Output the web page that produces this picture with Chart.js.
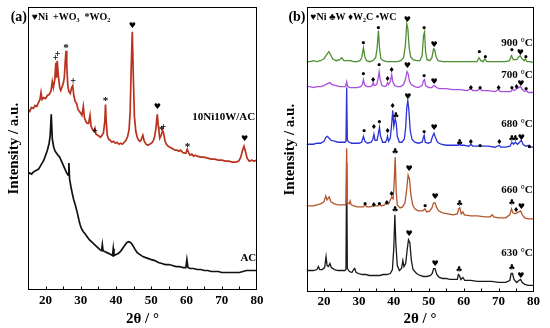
<!DOCTYPE html>
<html>
<head>
<meta charset="utf-8">
<script src="https://cdn.jsdelivr.net/npm/chart.js@4.4.1/dist/chart.umd.min.js"></script>
<style>
body { margin: 0; background: #fff; }
.wrap { position: relative; width: 550px; height: 328px; }
canvas { position: absolute; top: 0; }
#chartA { left: 0; }
#chartB { left: 275px; }
</style>
</head>
<body>
<div class="wrap">
    <canvas id="chartA" width="275" height="328"></canvas>
    <canvas id="chartB" width="275" height="328"></canvas>
</div>
<script>
// Axis ticks (2θ, degrees)
const angleLabels = [20, 30, 40, 50, 60, 70, 80];
const angleMarks = [20, 25, 30, 35, 40, 45, 50, 55, 60, 65, 70, 75];

// Panel (a): [2θ, intensity a.u.]
const nwPattern = [[15,182],[15.5,180],[16,184],[16.5,183],[17,186],[17.5,185],[18,189],[18.4,192],[18.7,199],[19,192],[19.5,194],[20,193],[20.5,196],[21,197],[21.5,200],[21.9,210],[22.2,204],[22.6,212],[22.9,229],[23.1,214],[23.3,231],[23.6,216],[24,204],[24.3,201],[24.7,205],[25,208],[25.3,214],[25.6,232],[25.8,241],[26,226],[26.3,206],[26.6,200],[27,198],[27.4,204],[27.7,206],[28,196],[28.4,190],[28.8,188],[29.2,182],[29.6,180],[30,178],[30.3,176],[30.7,185],[31,174],[31.4,170],[31.8,168],[32.2,168],[32.6,176],[32.9,165],[33.3,162],[33.7,160],[34,163],[34.3,157],[34.8,156],[35.2,155],[35.6,154],[36,156],[36.4,158],[36.8,170],[37,187],[37.2,170],[37.5,156],[37.9,152],[38.3,151],[38.8,149],[39.3,150],[39.8,148],[40.3,149],[40.8,147],[41.3,148],[41.8,147],[42.3,149],[42.8,151],[43.3,155],[43.7,162],[44,180],[44.3,225],[44.6,260],[44.9,215],[45.2,175],[45.6,160],[46,154],[46.4,151],[46.8,150],[47.2,152],[47.6,156],[48,150],[48.5,147],[49,146],[49.5,147],[50,148],[50.5,150],[50.9,154],[51.3,163],[51.7,177],[52,165],[52.4,153],[52.8,156],[53.2,161],[53.5,158],[53.9,150],[54.3,147],[54.8,145],[55.3,144],[55.8,143],[56.3,142],[56.8,141],[57.3,141],[57.8,140],[58.3,141],[58.8,139],[59.3,138],[59.8,138],[60.2,142],[60.5,139],[61,136],[61.5,137],[62,135],[62.5,136],[63,135],[64,134],[65,134],[66,133],[67,132],[68,132],[69,131],[70,131],[71,130],[72,130],[73,129],[74,129],[74.8,130],[75.4,134],[75.9,141],[76.3,145],[76.7,140],[77.2,133],[77.8,130],[78.5,131],[79.2,130],[80,131]];
const acPattern = [[15,117],[15.5,118],[16,117],[16.5,119],[17,120],[17.5,121],[18,122],[18.5,125],[19,128],[19.5,131],[20,136],[20.5,141],[21,148],[21.3,156],[21.6,177],[21.9,152],[22.3,144],[22.7,140],[23.1,138],[23.5,136],[24,134],[24.5,130],[25,126],[25.5,122],[26,118],[26.4,116],[26.6,128],[26.8,112],[27.2,104],[27.6,97],[28,91],[28.5,85],[29,78],[29.5,70],[29.8,66],[30.2,62],[30.7,59],[31.2,57],[31.8,54],[32.4,51],[33,49],[33.6,47],[34.2,45],[34.8,43],[35.4,41],[35.9,40],[36.1,46],[36.3,40],[36.8,39],[37.4,38],[38,37],[38.5,36],[39,35],[39.2,42],[39.4,35],[40,36],[40.6,37],[41.2,39],[41.8,42],[42.4,45],[43,48],[43.6,49],[44.2,48],[44.8,45],[45.4,41],[46,38],[46.8,36],[47.6,34],[48.4,33],[49.2,32],[50,31],[51,30],[52,28],[53,27],[54,26],[55,26],[56,25],[57,24],[58,24],[59,23],[59.8,23],[60.1,31],[60.4,23],[61,22],[62,22],[63,21],[64,21],[65,20],[66,20],[67,19],[68,19],[69,19],[70,18],[71,18],[72,18],[73,18],[74,18],[75,18],[76,19],[77,20],[78,20],[79,20],[80,20]];

// Panel (b): [2θ, intensity a.u.] by reduction temperature
const p900 = [[15,232],[16,232],[17,233],[18,232],[19,233],[20,235],[20.8,239],[21.4,242],[21.9,239],[22.5,235],[23.5,233],[24.5,234],[25.1,236],[25.7,233],[26.5,233],[27.5,233],[28.5,232],[29.5,232],[30.3,233],[30.8,236],[31.3,246],[31.7,237],[32.2,233],[33,232],[34,233],[34.8,236],[35.2,245],[35.6,263],[35.9,246],[36.3,235],[37,233],[38,232],[39,232],[40,232],[41,232],[42,233],[42.8,236],[43.3,248],[43.7,270],[44,266],[44.4,246],[44.8,237],[45.5,234],[46.5,233],[47.5,233],[48.1,238],[48.5,258],[48.8,262],[49.1,242],[49.5,234],[50.3,233],[50.9,236],[51.4,245],[51.7,244],[52.1,237],[52.7,233],[54,232],[56,232],[58,232],[60,232],[62,232],[63.8,232],[64.4,236],[64.9,233],[65.6,232],[66.1,235],[66.6,232],[68,232],[70,232],[72,232],[73.1,233],[73.7,238],[74.2,234],[75.2,234],[75.8,237],[76.2,238],[76.7,235],[77.3,233],[77.7,235],[78.1,232],[79,232],[80,231]];
const p700 = [[15,207],[16,207],[17,206],[18,207],[19,207],[20,208],[21,210],[21.7,211],[22.3,209],[23.5,208],[24.5,207],[25.5,207],[26.2,207],[26.5,212],[26.8,207],[27.5,206],[28.5,206],[29.5,206],[30.5,207],[31,209],[31.3,214],[31.6,209],[32.3,207],[33.3,207],[33.8,208],[34.1,211],[34.4,208],[35.1,209],[35.5,215],[35.8,222],[36.1,214],[36.6,208],[37.4,207],[37.9,208],[38.2,211],[38.5,209],[39,212],[39.4,219],[39.7,212],[40.2,208],[41,207],[42,207],[42.8,209],[43.3,214],[43.8,222],[44.1,220],[44.5,212],[45,209],[46,207],[47,206],[48.1,208],[48.5,213],[48.8,214],[49.1,208],[50,206],[50.9,206],[51.4,208],[51.7,208],[52.2,206],[53,205],[55,205],[57,204],[59,204],[61,203],[62.1,205],[62.6,203],[64,203],[64.7,205],[65.2,203],[67,203],[69,202],[70,204],[70.5,202],[72,202],[73.5,202],[73.9,204],[74.5,203],[75.2,205],[75.8,206],[76.3,207],[76.8,204],[77.5,202],[78,203],[78.5,201],[80,201]];
const p680 = [[15,149],[16,149],[17,149],[18,150],[19,150],[20,152],[20.6,156],[21,157],[21.5,155],[22,153],[23,152],[24,151],[25,151],[26,151],[26.3,152],[26.5,206],[26.7,153],[27.2,151],[28,150],[29,150],[30,150],[30.8,151],[31.3,157],[31.7,152],[32.5,150],[33.5,151],[34,154],[34.3,159],[34.6,153],[35.2,153],[35.6,160],[35.9,166],[36.2,157],[36.8,151],[37.6,151],[38,154],[38.2,157],[38.5,152],[39,155],[39.4,170],[39.7,183],[40,167],[40.4,175],[40.7,170],[41,157],[41.6,151],[42.3,151],[43,154],[43.4,166],[43.7,185],[44,193],[44.3,184],[44.7,163],[45.2,154],[46,151],[47,150],[48.1,151],[48.4,155],[48.7,158],[49,151],[49.8,150],[50.6,151],[51.1,157],[51.5,160],[51.9,156],[52.5,151],[53.5,149],[55,148],[57,148],[58.5,148],[58.8,151],[59.1,148],[60,148],[61.5,147],[62.1,149],[62.6,147],[64,147],[64.7,148],[65.3,147],[67,147],[69,146],[70.2,148],[70.6,146],[72,146],[73.3,147],[73.8,151],[74.3,149],[74.8,151],[75.4,149],[76,151],[76.5,153],[77,149],[77.8,147],[78.8,148],[79.3,146],[80,146]];
const p660 = [[15,87],[16,87],[17,87],[18,88],[19,89],[20,91],[20.5,97],[20.9,93],[21.5,96],[22,91],[23,89],[24,88],[25,88],[26,88],[26.3,89],[26.5,145],[26.7,90],[27.2,89],[27.5,92],[27.8,88],[28.5,87],[29.5,86],[30.5,86],[31.3,86],[31.8,88],[32.3,86],[33.3,86],[34,87],[34.3,89],[34.7,87],[35.5,87],[35.9,89],[36.4,87],[37.3,88],[38,91],[38.5,89],[39,93],[39.4,96],[39.8,94],[40.1,110],[40.4,136],[40.7,100],[41,88],[41.8,85],[42.5,86],[43.2,90],[43.7,104],[44.1,118],[44.5,114],[44.9,98],[45.4,88],[46,84],[47,82],[48.3,82],[48.9,84],[49.4,81],[50.3,82],[50.9,85],[51.4,90],[51.8,90],[52.2,86],[52.8,82],[54,80],[55.5,79],[57,78],[58.2,79],[58.6,84],[58.9,85],[59.3,79],[59.8,81],[60.2,78],[62,77],[64,77],[66,76],[67.6,76],[68.2,78],[68.6,76],[70,75],[72,75],[73.2,78],[73.7,84],[74.1,80],[74.7,79],[75.2,80],[75.8,81],[76.3,82],[76.8,78],[77.5,75],[78.5,74],[80,74]];
const p630 = [[15,22],[16,22],[17,22],[18,23],[18.4,26],[18.8,23],[19.5,23],[20.2,25],[20.6,36],[20.9,27],[21.3,26],[21.7,29],[22.1,25],[23,23],[24,22],[25,22],[26,22],[26.3,23],[26.5,130],[26.7,24],[27.3,21],[28,20],[28.5,23],[28.8,24],[29.2,20],[30,19],[31,18],[32,18],[33,17],[34,17],[35,17],[36,17],[37,18],[38,18],[39,19],[39.6,23],[40,45],[40.3,78],[40.6,48],[41,27],[41.6,22],[42.2,24],[42.6,32],[42.9,26],[43.4,29],[43.8,42],[44.2,53],[44.6,50],[45,33],[45.5,23],[46.5,19],[47.5,17],[48.5,16],[49.5,16],[50.5,17],[51,19],[51.4,24],[51.8,24],[52.3,18],[53,15],[54,14],[55,14],[56,13],[57,13],[58.2,13],[58.5,18],[58.8,17],[59.2,13],[59.8,15],[60.3,12],[62,12],[64,11],[66,11],[68,11],[70,10],[72,10],[73.2,12],[73.6,19],[74,19],[74.4,13],[75.2,10],[75.8,12],[76.3,13],[76.8,10],[77.5,8],[78.5,7],[80,7]];

// Phase markers: [2θ, intensity, symbol]
const markersA = [[44.6,266,'♥'],[51.7,185,'♥'],[76.5,152,'♥'],[22.8,233,'+'],[23.4,237,'+'],[25.8,247,'*'],[27.8,210,'+'],[34.0,160,'+'],[37.0,193,'*'],[52.9,164,'*'],[53.4,164,'+'],[60.3,147,'*']];
const markersB = [
    [31.3,250,'•'],[35.6,265,'•'],[43.9,274,'♥'],[48.7,265,'•'],[51.5,249,'♥'],[64.5,241,'•'],[66.2,236,'•'],[73.8,243,'•'],[76.2,241,'♥'],[77.8,236,'•'],
    [31.3,219,'•'],[34.1,213,'♦'],[35.8,228,'•'],[38.2,214,'♦'],[39.4,223,'♦'],[43.9,228,'♥'],[48.7,217,'•'],[51.5,212,'♥'],[62.1,205,'♦'],[64.7,205,'•'],[70.0,205,'♦'],[73.8,205,'•'],[75.2,206,'♦'],[76.4,210,'♥'],[77.9,204,'•'],
    [31.5,162,'•'],[34.3,166,'♦'],[35.9,171,'•'],[38.2,162,'♦'],[39.7,187,'♦'],[40.6,177,'♣'],[44.0,197,'♥'],[48.7,161,'•'],[51.5,165,'♥'],[58.8,150,'♣'],[62.1,151,'♦'],[64.7,147,'•'],[70.2,151,'♦'],[73.8,154,'♣'],[74.8,154,'♣'],[76.5,155,'♥'],[78.8,146,'•'],
    [31.8,88,'•'],[34.3,88,'♦'],[35.9,88,'•'],[38.0,90,'♦'],[39.4,99,'♦'],[40.4,141,'♣'],[44.4,124,'♥'],[49.0,86,'•'],[51.8,96,'♥'],[58.8,89,'♣'],[73.8,90,'♣'],[75.0,83,'♦'],[76.5,86,'♥'],
    [40.4,83,'♣'],[44.4,59,'♥'],[51.8,29,'♥'],[58.7,23,'♣'],[73.8,25,'♣'],[76.4,17,'♥']
];

// Curve names: [text, 2θ of right edge, intensity]
const namesA = [['10Ni10W/AC',79.5,174],['AC',79.8,32]];
const namesB = [['900 °C',79.8,251],['700 °C',79.8,218],['680 °C',79.8,169],['660 °C',79.8,103],['630 °C',79.8,39]];

Chart.defaults.font.family = '"Liberation Serif", "Times New Roman", serif';
Chart.defaults.color = '#000';

const symbolFont = {
    '♥': '8px "DejaVu Sans"',
    '♣': '8px "DejaVu Sans"',
    '♦': '7px "DejaVu Sans"',
    '•': 'bold 9px "DejaVu Sans"',
    '+': 'bold 10px "Liberation Serif"',
    '*': 'bold 11px "Liberation Serif"'
};
const symbolShift = { '*': 3 };

function decor(cfg) {
    return {
        id: 'decor',
        afterDatasetsDraw(chart) {
            const {ctx, chartArea: a, scales: {x, y}} = chart;
            ctx.save();
            ctx.strokeStyle = '#000';
            ctx.lineWidth = 1;
            const l = Math.round(a.left) + 0.5, t = Math.round(a.top) + 0.5;
            const r = Math.round(a.right) - 0.5, b = Math.round(a.bottom) - 0.5;
            ctx.strokeRect(l, t, r - l, b - t);
            angleMarks.forEach(v => {
                const px = Math.round(x.getPixelForValue(v)) + 0.5;
                ctx.beginPath();
                ctx.moveTo(px, b);
                ctx.lineTo(px, b - 3);
                ctx.stroke();
            });

            ctx.fillStyle = '#000';
            ctx.textAlign = 'center';
            ctx.textBaseline = 'middle';
            cfg.markers.forEach(([ang, val, s]) => {
                ctx.font = symbolFont[s];
                ctx.fillText(s, x.getPixelForValue(ang), y.getPixelForValue(val) + (symbolShift[s] || 0));
            });

            ctx.textAlign = 'right';
            ctx.font = 'bold 11px "Liberation Serif"';
            cfg.names.forEach(([text, ang, val]) => {
                ctx.fillText(text, x.getPixelForValue(ang), y.getPixelForValue(val));
            });

            // panel tag and phase key
            ctx.font = 'bold 14px "Liberation Serif"';
            ctx.fillText(cfg.tag, a.left - 1, a.top + 10);
            ctx.textAlign = 'left';
            ctx.font = 'bold 10px "Liberation Serif"';
            ctx.fillText(cfg.key, a.left + 4, a.top + 10);
            ctx.restore();
        }
    };
}

function makeChart(id, cfg) {
    return new Chart(document.getElementById(id), {
        type: 'line',
        data: {
            datasets: cfg.series.map(s => ({
                data: s.points.map(p => ({x: p[0], y: p[1]})),
                borderColor: s.color,
                borderWidth: s.width,
                pointRadius: 0,
                tension: 0,
                fill: false
            }))
        },
        options: {
            responsive: false,
            animation: false,
            devicePixelRatio: 1,
            layout: { padding: cfg.padding },
            plugins: { legend: { display: false }, tooltip: { enabled: false } },
            scales: {
                x: {
                    type: 'linear', min: 15, max: 80,
                    afterBuildTicks: axis => { axis.ticks = angleLabels.map(v => ({value: v})); },
                    ticks: { font: { size: 13, weight: 'bold' }, color: '#000', padding: cfg.tickPad, maxRotation: 0, autoSkip: false },
                    grid: { display: false, drawTicks: false },
                    border: { display: false },
                    title: { display: true, text: '2θ / °', color: '#000', font: { size: 15, weight: 'bold' }, padding: { top: 0, bottom: 0 } }
                },
                y: {
                    min: 0, max: cfg.yMax,
                    ticks: { display: false },
                    grid: { display: false, drawTicks: false },
                    border: { display: false },
                    title: { display: true, text: 'Intensity / a.u.', color: '#000', font: { size: 15, weight: 'bold' }, padding: cfg.yTitlePad }
                }
            }
        },
        plugins: [decor(cfg)]
    });
}

makeChart('chartA', {
    series: [
        { points: nwPattern, color: '#b8321e', width: 1.7 },
        { points: acPattern, color: '#111111', width: 1.7 }
    ],
    markers: markersA, names: namesA,
    tag: '(a)', key: '♥Ni  +WO₃  *WO₂',
    padding: { left: 1, right: 18, top: 7, bottom: 0 },
    tickPad: 2, yMax: 285,
    yTitlePad: { top: 4, bottom: 5 }
});

makeChart('chartB', {
    series: [
        { points: p900, color: '#4f8f33', width: 1.3 },
        { points: p700, color: '#a94fdc', width: 1.3 },
        { points: p680, color: '#2b33d6', width: 1.3 },
        { points: p660, color: '#b0562a', width: 1.3 },
        { points: p630, color: '#1a1a1a', width: 1.3 }
    ],
    markers: markersB, names: namesB,
    tag: '(b)', key: '♥Ni ♣W ♦W₂C •WC',
    padding: { left: 2, right: 16.5, top: 7, bottom: 0 },
    tickPad: 1, yMax: 287,
    yTitlePad: { top: 4, bottom: 7.5 }
});
</script>
</body>
</html>
